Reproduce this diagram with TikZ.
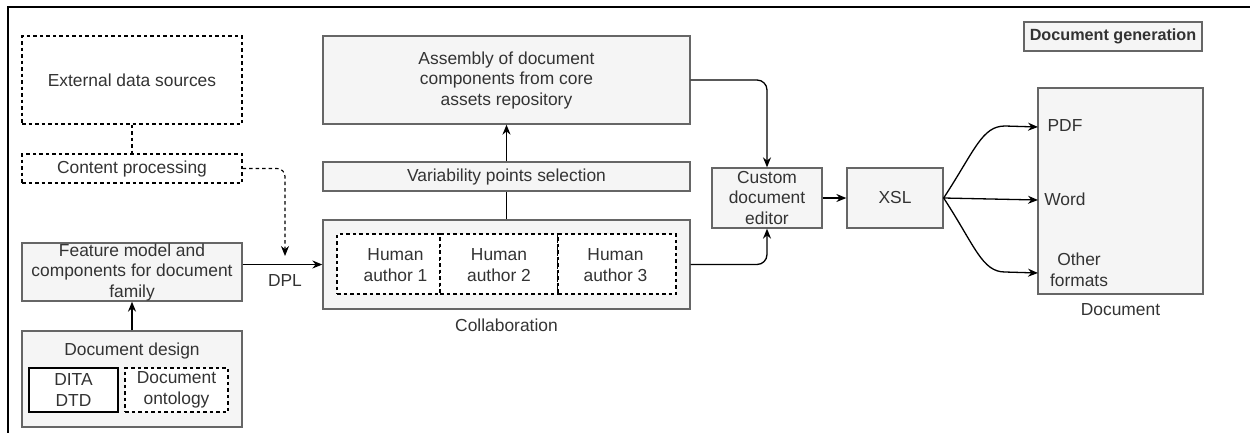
\documentclass[tikz,border=0pt]{standalone}
\usepackage{fontspec}
\setmainfont{Liberation Sans}
\usetikzlibrary{arrows.meta}
\definecolor{boxfill}{HTML}{F5F5F5}
\definecolor{boxline}{HTML}{666666}
\definecolor{txt}{HTML}{333333}
\newcommand{\fsz}{\fontsize{17.4}{20.5}\selectfont}
\begin{document}
\begin{tikzpicture}[x=1pt,y=-1pt,
  every node/.style={font=\fsz, text=txt, inner sep=0pt, align=center},
  gbox/.style={draw=boxline, fill=boxfill, line width=1.3pt},
  dbox/.style={draw=black, fill=white, line width=1.1pt, dash pattern=on 3.5pt off 3pt},
  sbox/.style={draw=black, fill=white, line width=1.3pt},
  conn/.style={draw=black, line width=1.3pt},
  arr/.style={conn, -{Stealth[length=10pt,width=8pt]}},
  darr/.style={arr, line width=1.1pt, dash pattern=on 3.5pt off 3pt},
  lbl/.style={text=txt}]
\useasboundingbox (0,0) rectangle (1250,432);
% frame
\draw[black, line width=2pt] (1252,6.5) -- (7.5,6.5) -- (7.5,434);

% left column
\node[dbox, minimum width=220pt, minimum height=88pt] (ext) at (132,80) {External data sources};
\node[dbox, minimum width=220pt, minimum height=29pt] (cp) at (132,168.5) {Content processing};
\node[gbox, minimum width=220pt, minimum height=58pt] (feat) at (132,272) {Feature model and\\components for document\\family};
\node[gbox, minimum width=220pt, minimum height=96pt] (design) at (132,379) {};
\node[lbl] (designlbl) at (132,351) {Document design};
\node[sbox, minimum width=89pt, minimum height=44pt] (dita) at (73.5,390) {DITA\\DTD};
\node[dbox, minimum width=103pt, minimum height=44pt] (onto) at (176.5,390) {Document\\ontology};

% middle column
\node[gbox, minimum width=367pt, minimum height=88pt] (asm) at (506.5,80) {Assembly of document\\components from core\\assets repository};
\node[gbox, minimum width=367pt, minimum height=29pt] (var) at (506.5,176.5) {Variability points selection};
\node[gbox, minimum width=367pt, minimum height=89pt] (coll) at (506.5,264.5) {};
\node[lbl] (colllbl) at (506.5,325) {Collaboration};
\node[dbox, minimum width=103pt, minimum height=60pt] (c1) at (388.5,264) {};
\node[dbox, minimum width=118pt, minimum height=60pt] (c2) at (499,264) {};
\node[dbox, minimum width=118pt, minimum height=60pt] (c3) at (617,264) {};
\node[lbl] (a1) at (395.5,265) {Human\\author 1};
\node[lbl] (a2) at (499,265) {Human\\author 2};
\node[lbl] (a3) at (615.5,265) {Human\\author 3};

% right part
\node[gbox, minimum width=110pt, minimum height=60pt] (cde) at (767,198) {Custom\\document\\editor};
\node[gbox, minimum width=96pt, minimum height=60pt] (xsl) at (895,198) {XSL};
\node[gbox, minimum width=165pt, minimum height=206pt] (doc) at (1120.5,191) {};
\node[lbl] (doclbl) at (1120.5,310) {Document};
\node[lbl] (pdf) at (1065,126) {PDF};
\node[lbl] (word) at (1065,199) {Word};
\node[lbl] (other) at (1079,270) {Other\\formats};
\node[gbox, minimum width=178pt, minimum height=29pt, font=\fontsize{16.2}{19}\selectfont\bfseries] (gen) at (1113,36.5) {Document generation};

\coordinate (tpdf) at (1038,127);
\coordinate (tword) at (1038,200);
\coordinate (tother) at (1038,273);
\coordinate (dpltip) at (285,256);
\coordinate (dplbend) at (285,168.5);

% connectors
\draw[conn, line width=1.1pt, dash pattern=on 3.5pt off 3pt] (ext.south) -- (cp.north);
\draw[darr, rounded corners=8pt] (cp.east) -- (dplbend) -- (dpltip);
\draw[arr] (design.north) -- (feat.south);
\draw[arr] (coll.west -| feat.east) -- (coll.west);
\node[lbl] (dpl) at (285,281) {DPL};
\draw[conn] (coll.north) -- (var.south);
\draw[arr] (var.north) -- (asm.south);
\draw[arr, rounded corners=10pt] (asm.east) -| (cde.north);
\draw[arr, rounded corners=10pt] (coll.east) -| (cde.south);
\draw[arr] (cde.east) -- (xsl.west);
\draw[arr] (xsl.east) .. controls (975,150) and (982,126) .. (1005,126) -- (tpdf);
\draw[arr] (xsl.east) -- (tword);
\draw[arr] (xsl.east) .. controls (975,246) and (982,272) .. (1005,272) -- (tother);
\end{tikzpicture}
\end{document}
